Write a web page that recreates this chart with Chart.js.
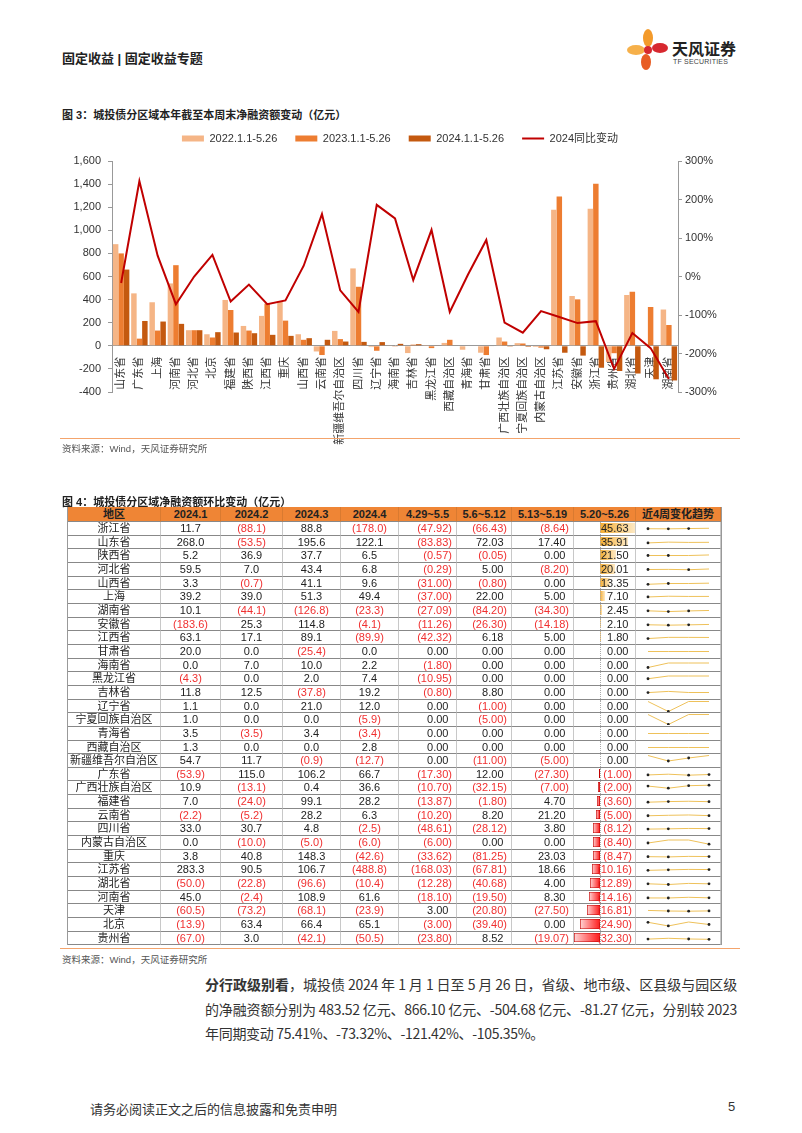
<!DOCTYPE html>
<html>
<head>
<meta charset="utf-8">
<script src="https://cdn.jsdelivr.net/npm/chart.js@4.4.1/dist/chart.umd.min.js"></script>
<style>
body{margin:0;background:#fff;font-family:"Liberation Sans","Noto Sans CJK SC",sans-serif;color:#222}
#page{position:relative;width:802px;height:1133px;overflow:hidden}
.abs{position:absolute}
.hdr{left:62px;top:48px;font-size:13px;font-weight:bold;color:#222}
.fig{font-size:11px;font-weight:bold;color:#222;left:62px}
.src{font-size:9.5px;color:#555;left:62px}
.oline{left:60px;width:680px;height:1px;background:#f4a46c}
#tbl{left:67px;top:507px;display:grid;font-size:11px;
 grid-template-columns:93px 60px 62px 58px 58px 58px 55px 62px 62px 85px;
 grid-template-rows:15px repeat(31,13.67px);border-left:1px solid #999;border-right:1px solid #999}
#tbl div.c{box-sizing:border-box;border-bottom:1px solid #888;border-right:1px solid #c8c8c8;
 line-height:12.5px;white-space:nowrap;position:relative;overflow:hidden}
#tbl div.h{background:#ef8535;font-weight:bold;text-align:center;line-height:14px;border-right:1px solid #d97a30;border-bottom:1px solid #888}
.ctr{text-align:center}
.rt{text-align:right}
.neg{color:#f03030}
#para{left:205px;top:972px;width:532px;font-family:"Noto Sans CJK SC",sans-serif;font-size:14px;line-height:24.5px;color:#333;text-align:justify;letter-spacing:-0.3px}
</style>
</head>
<body>
<div id="page">
  <div class="abs hdr">固定收益 | 固定收益专题</div>
  <svg class="abs" style="left:626px;top:28px" width="44" height="44" viewBox="0 0 44 44">
    <ellipse cx="22" cy="10" rx="5" ry="9" fill="#f39a2b"/>
    <ellipse cx="10" cy="22" rx="9" ry="5" fill="#f6b04a"/>
    <ellipse cx="34" cy="20" rx="8" ry="5" fill="#d7282f"/>
    <ellipse cx="20" cy="34" rx="5" ry="8" fill="#e85d24"/>
    <circle cx="22" cy="22" r="4" fill="#d7282f"/>
  </svg>
  <div class="abs" style="left:672px;top:36px;font-size:16px;font-weight:bold;color:#222;font-family:'Noto Sans CJK SC'">天风证券</div>
  <div class="abs" style="left:673px;top:58px;font-size:7px;color:#444;letter-spacing:0.2px">TF SECURITIES</div>

  <div class="abs fig" style="top:106px">图 3：城投债分区域本年截至本周末净融资额变动（亿元）</div>
  <div class="abs" style="left:60px;top:115px;width:680px;height:330px"><canvas id="c3"></canvas></div>
  <div class="abs oline" style="top:438px"></div>
  <div class="abs src" style="top:441px">资料来源：Wind，天风证券研究所</div>

  <div class="abs fig" style="top:493px">图 4：城投债分区域净融资额环比变动（亿元）</div>
  <div class="abs" id="tbl"></div>
  <div class="abs oline" style="top:948px"></div>
  <div class="abs src" style="top:952px">资料来源：Wind，天风证券研究所</div>

  <div class="abs" id="para"><b>分行政级别看</b>，城投债 2024 年 1 月 1 日至 5 月 26 日，省级、地市级、区县级与园区级的净融资额分别为 483.52 亿元、866.10 亿元、-504.68 亿元、-81.27 亿元，分别较 2023 年同期变动 75.41%、-73.32%、-121.42%、-105.35%。</div>

  <div class="abs" style="left:90px;top:1099px;font-size:13px;color:#333;font-family:'Noto Sans CJK SC'">请务必阅读正文之后的信息披露和免责申明</div>
  <div class="abs" style="left:728px;top:1099px;font-size:13px;color:#333">5</div>
</div>
<script>
// 图3 数据
const regions3 = ['山东省','广东省','上海','河南省','河北省','北京','福建省','陕西省','江西省','重庆','山西省','云南省','新疆维吾尔自治区','四川省','辽宁省','海南省','吉林省','黑龙江省','西藏自治区','青海省','甘肃省','广西壮族自治区','宁夏回族自治区','内蒙古自治区','江苏省','安徽省','浙江省','贵州省','湖北省','天津','湖南省'];
const net2022 = [880,454,377,540,135,100,397,172,259,382,100,-49,129,670,-11,3,-63,2,25,-34,-60,72,23,-10,1178,431,1187,-140,440,0,314];
const net2023 = [800,62,132,698,135,72,310,132,365,218,52,-80,58,511,-43,-2,10,-20,52,0,-80,37,20,-16,1293,402,1403,-64,468,336,180];
const net2024 = [660,215,210,190,135,118,115,109,95,86,66,52,37,34,32,17,14,5,4,0,-4,-7,-9,-30,-60,-85,-190,-218,-240,-290,-300];
const yoy2024 = [-17,248,54,-72,0,56,-65,-21,-72,-62,28,162,-36,-92,186,151,-9,121,-92,5,95,-120,-146,-90,-105,-121,-116,-240,-147,-186,-266];

// 图4 数据
const regions4 = ['浙江省','山东省','陕西省','河北省','山西省','上海','湖南省','安徽省','江西省','甘肃省','海南省','黑龙江省','吉林省','辽宁省','宁夏回族自治区','青海省','西藏自治区','新疆维吾尔自治区','广东省','广西壮族自治区','福建省','云南省','四川省','内蒙古自治区','重庆','江苏省','湖北省','河南省','天津','北京','贵州省'];
const m202401 = [11.7,268.0,5.2,59.5,3.3,39.2,10.1,-183.6,63.1,20.0,0.0,-4.3,11.8,1.1,1.0,3.5,1.3,54.7,-53.9,10.9,7.0,-2.2,33.0,0.0,3.8,283.3,-50.0,45.0,-60.5,-13.9,-67.0];
const m202402 = [-88.1,-53.5,36.9,7.0,-0.7,39.0,-44.1,25.3,17.1,0.0,7.0,0.0,12.5,0.0,0.0,-3.5,0.0,11.7,115.0,-13.1,-24.0,-5.2,30.7,-10.0,40.8,90.5,-22.8,-2.4,-73.2,63.4,3.0];
const m202403 = [88.8,195.6,37.7,43.4,41.1,51.3,-126.8,114.8,89.1,-25.4,10.0,2.0,-37.8,21.0,0.0,3.4,0.0,-0.9,106.2,0.4,99.1,28.2,4.8,-5.0,148.3,106.7,-96.6,108.9,-68.1,66.4,-42.1];
const m202404 = [-178.0,122.1,6.5,6.8,9.6,49.4,-23.3,-4.1,-89.9,0.0,2.2,7.4,19.2,12.0,-5.9,-3.4,2.8,-12.7,66.7,36.6,28.2,6.3,-2.5,-6.0,-42.6,-488.8,-10.4,61.6,-23.9,65.1,-50.5];
const wk0429 = [-47.92,-83.83,-0.57,-0.29,-31.00,-37.00,-27.09,-11.26,-42.32,0,-1.80,-10.95,-0.80,0,0,0,0,0,-17.30,-10.70,-13.87,-10.20,-48.61,-6.00,-33.62,-168.03,-12.28,-18.10,3.00,-3.00,-23.80];
const wk0506 = [-66.43,72.03,-0.05,5.00,-0.80,22.00,-84.20,-26.30,6.18,0,0,0,8.80,-1.00,-5.00,0,0,-11.00,12.00,-32.15,-1.80,8.20,-28.12,0,-81.25,-67.81,-40.68,-19.50,-20.80,-39.40,8.52];
const wk0513 = [-8.64,17.40,0,-8.20,0,5.00,-34.30,-14.18,5.00,0,0,0,0,0,0,0,0,-5.00,-27.30,-7.00,4.70,21.20,3.80,0,23.03,18.66,4.00,8.30,-27.50,0,-19.07];
const wk0520 = [45.63,35.91,21.50,20.01,13.35,7.10,2.45,2.10,1.80,0,0,0,0,0,0,0,0,0,-1.00,-2.00,-3.60,-5.00,-8.12,-8.40,-8.47,-10.16,-12.89,-14.16,-16.81,-24.90,-32.30];
const headers4 = ['地区','2024.1','2024.2','2024.3','2024.4','4.29~5.5','5.6~5.12','5.13~5.19','5.20~5.26','近4周变化趋势'];

Chart.defaults.font.family = '"Liberation Sans","Noto Sans CJK SC",sans-serif';
Chart.defaults.color = '#333';
Chart.defaults.animation = false;

// 图例与绘图区之间多留一点空
const legendGap = {
  id: 'legendGap',
  beforeInit(chart) {
    const fit = chart.legend.fit;
    chart.legend.fit = function () { fit.bind(chart.legend)(); this.height += 7; };
  }
};

new Chart(document.getElementById('c3'), {
  type: 'bar',
  plugins: [legendGap],
  data: {
    labels: regions3,
    datasets: [
      {label: '2022.1.1-5.26', data: net2022, backgroundColor: '#f5b586', yAxisID: 'y', pointStyle: 'rect', order: 2},
      {label: '2023.1.1-5.26', data: net2023, backgroundColor: '#ed7d31', yAxisID: 'y', pointStyle: 'rect', order: 2},
      {label: '2024.1.1-5.26', data: net2024, backgroundColor: '#c4590f', yAxisID: 'y', pointStyle: 'rect', order: 2},
      {label: '2024同比变动', type: 'line', data: yoy2024, borderColor: '#c00000', backgroundColor: '#c00000',
       borderWidth: 2, pointRadius: 0, tension: 0, yAxisID: 'y1', pointStyle: 'line', order: 1}
    ]
  },
  options: {
    responsive: true, maintainAspectRatio: false,
    layout: {padding: {top: 0, bottom: 53, left: 0, right: 0}},
    datasets: {bar: {categoryPercentage: 0.9, barPercentage: 1.0}},
    plugins: {
      legend: {position: 'top', labels: {usePointStyle: true, pointStyleWidth: 22, boxHeight: 6, padding: 18,
        font: {size: 11}, color: '#333', sort: (a, b) => a.datasetIndex - b.datasetIndex}},
      tooltip: {enabled: false}
    },
    scales: {
      x: {position: {y: 0}, offset: true,
          grid: {display: false}, border: {color: '#999'},
          ticks: {autoSkip: false, minRotation: 90, maxRotation: 90, padding: 3, font: {size: 11}, color: '#333'}},
      y: {position: 'left', min: -400, max: 1600,
          grid: {drawOnChartArea: false, tickLength: 4, color: '#999'}, border: {color: '#999'},
          ticks: {stepSize: 200, padding: 7, font: {size: 11}, color: '#333',
                  callback: v => v.toLocaleString('en-US')},
          afterFit: s => { s.width = 52; }},
      y1: {position: 'right', min: -300, max: 300,
          grid: {drawOnChartArea: false, tickLength: 4, color: '#999'}, border: {color: '#999'},
          ticks: {stepSize: 100, padding: 3, font: {size: 11}, color: '#333', callback: v => v + '%'},
          afterFit: s => { s.width = 62; }}
    }
  }
});

// 表格
const tbl = document.getElementById('tbl');
headers4.forEach(h => {
  const d = document.createElement('div'); d.className = 'h'; d.textContent = h; tbl.appendChild(d);
});
const fmt = (v, n) => v < 0 ? '(' + Math.abs(v).toFixed(n) + ')' : v.toFixed(n);
const posMax = 45.63, negMax = 32.30, axisX = 25.7;
regions4.forEach((r, i) => {
  const add = (html, cls, style) => {
    const d = document.createElement('div'); d.className = 'c ' + (cls || '');
    if (style) d.style.cssText = style;
    d.innerHTML = html; tbl.appendChild(d); return d;
  };
  add(r, 'ctr');
  [m202401, m202402, m202403, m202404].forEach(a => {
    const v = a[i]; add(fmt(v, 1), 'ctr' + (v < 0 ? ' neg' : ''));
  });
  [wk0429, wk0506, wk0513].forEach(a => {
    const v = a[i]; add(fmt(v, 2), 'rt' + (v < 0 ? ' neg' : ''), 'padding-right:' + (v < 0 ? 4 : 7.5) + 'px');
  });
  const v = wk0520[i];
  const db = add('', 'rt', 'padding-right:' + (v < 0 ? 3 : 6.5) + 'px');
  const bar = document.createElement('div');
  bar.style.position = 'absolute'; bar.style.top = '1px'; bar.style.bottom = '2px';
  if (v > 0) {
    const w = v / posMax * 35.5;
    bar.style.left = axisX + 'px'; bar.style.width = w + 'px';
    bar.style.background = 'linear-gradient(to right,#f4ad33,#fde9c4)';
  } else if (v < 0) {
    const w = -v / negMax * 25.3;
    bar.style.left = (axisX - w) + 'px'; bar.style.width = w + 'px';
    bar.style.background = 'linear-gradient(to left,#ff1a1a,#ffd6d6)';
    bar.style.boxShadow = 'inset 0 0 0 0.6px #c00000';
  }
  db.appendChild(bar);
  const dash = document.createElement('div');
  dash.style.cssText = 'position:absolute;left:' + axisX + 'px;top:0;bottom:0;border-left:1px dotted #aaa';
  db.appendChild(dash);
  const t = document.createElement('span');
  t.style.position = 'relative'; t.textContent = fmt(v, 2);
  if (v < 0) t.className = 'neg';
  db.appendChild(t);
  // 迷你折线
  const sc = add('', '');
  const cv = document.createElement('canvas');
  cv.width = 84; cv.height = 13; cv.style.display = 'block';
  sc.appendChild(cv);
  const pts = [wk0429[i], wk0506[i], wk0513[i], wk0520[i]];
  new Chart(cv, {
    type: 'line',
    data: {labels: ['1', '2', '3', '4'], datasets: [{data: pts, borderColor: '#eec15a', borderWidth: 1,
      pointRadius: pts.map(p => p < 0 ? 1.4 : 0), pointBackgroundColor: '#222', pointBorderWidth: 0, tension: 0}]},
    options: {responsive: false, layout: {padding: {left: 12, right: 11, top: 1.5, bottom: 1.5}},
      plugins: {legend: {display: false}, tooltip: {enabled: false}},
      scales: {x: {display: false}, y: {display: false}}}
  });
});
</script>
</body>
</html>
